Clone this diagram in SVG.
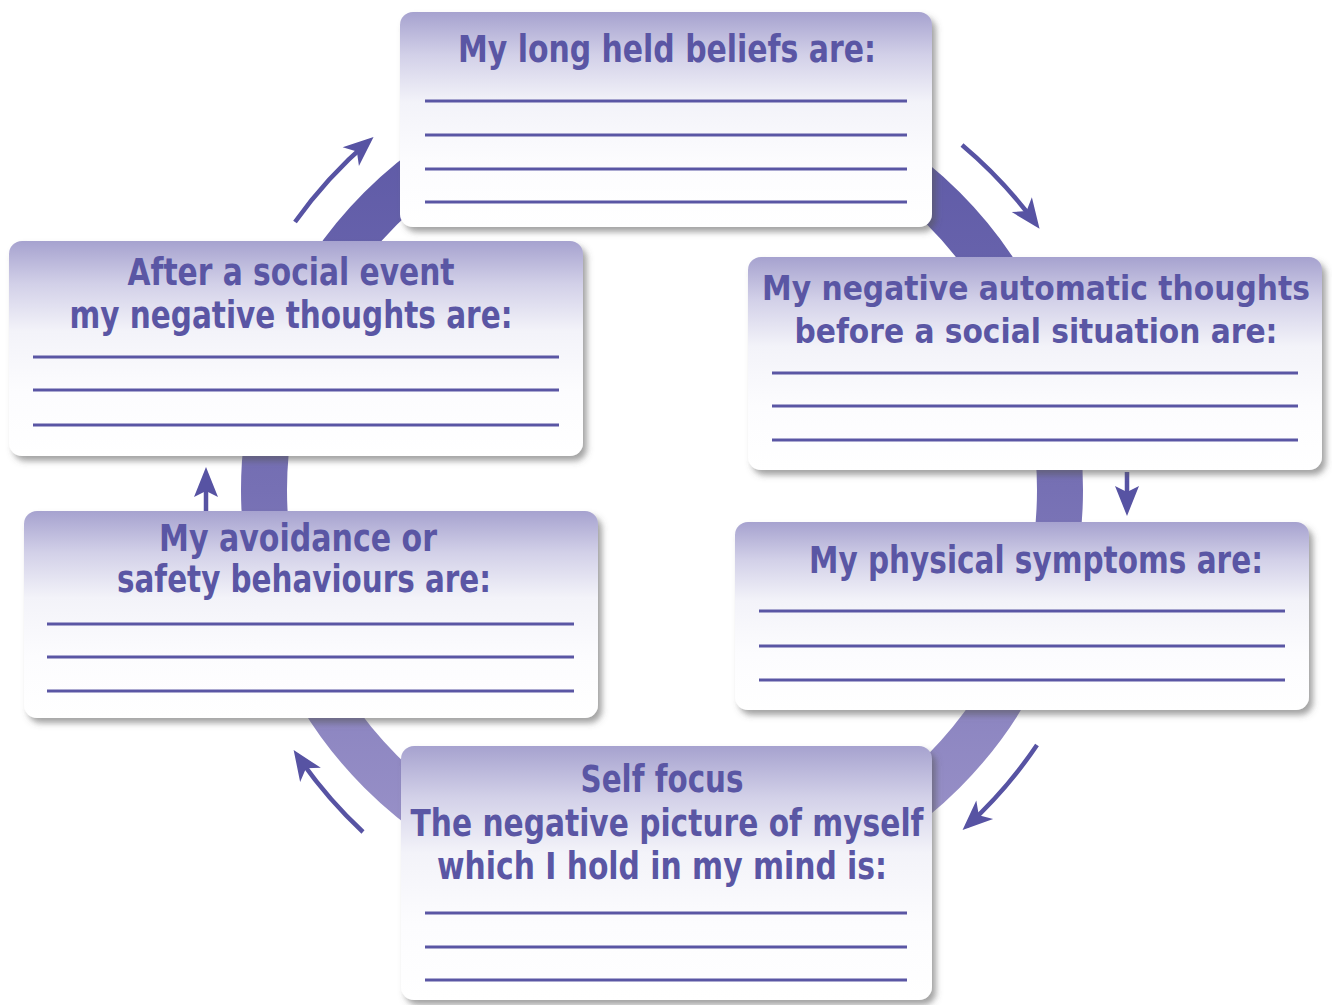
<svg xmlns="http://www.w3.org/2000/svg" width="1332" height="1005" viewBox="0 0 1332 1005">
<style>
.t{font-family:"DejaVu Sans Condensed","Liberation Sans Narrow","Liberation Sans",sans-serif;font-weight:bold;font-size:37px;fill:#5a56a4;text-anchor:middle}
.s{font-size:34px}
.ln{stroke:#5a56a4;stroke-width:3}
.box{fill:url(#bg);filter:url(#sh)}
.arr{fill:none;stroke:#5753a3;stroke-width:4.5;marker-end:url(#ah)}
</style>
<defs>
<linearGradient id="bg" x1="0" y1="0" x2="0" y2="1">
<stop offset="0" stop-color="#a6a2cf"/>
<stop offset="0.2" stop-color="#d2d0e8"/>
<stop offset="0.42" stop-color="#f3f3f9"/>
<stop offset="0.7" stop-color="#fcfcfe"/>
<stop offset="1" stop-color="#ffffff"/>
</linearGradient>
<linearGradient id="rg" gradientUnits="userSpaceOnUse" x1="0" y1="69" x2="0" y2="911">
<stop offset="0" stop-color="#5a56a4"/>
<stop offset="0.5" stop-color="#7670b4"/>
<stop offset="1" stop-color="#a098cc"/>
</linearGradient>
<filter id="sh" x="-5%" y="-5%" width="115%" height="120%">
<feDropShadow dx="4" dy="5" stdDeviation="3" flood-color="#555" flood-opacity="0.55"/>
</filter>
<marker id="ah" markerUnits="userSpaceOnUse" markerWidth="40" markerHeight="40" viewBox="-30 -15 40 30" refX="0" refY="0" orient="auto">
<path d="M6,0 L-24,-12.5 L-16,0 L-24,12.5 Z" fill="#5753a3"/>
</marker>
</defs>
<rect width="1332" height="1005" fill="#fff"/>
<g id="ring">
<circle cx="662" cy="490" r="398" fill="none" stroke="url(#rg)" stroke-width="46"/>
</g>
<g id="connectors">
<path class="arr" d="M295,222 A455,455 0 0 1 369,141"/>
<path class="arr" d="M962,145 A455,455 0 0 1 1036,224"/>
<path class="arr" d="M1037,745 A455,455 0 0 1 967,826"/>
<path class="arr" d="M363,832 A455,455 0 0 1 297,755"/>
<path d="M1127,472 V494" stroke="#5753a3" stroke-width="4.5"/>
<path d="M1127,516 L1115,486 L1127,492 L1139,486 Z" fill="#5753a3"/>
<path d="M206,512 V490" stroke="#5753a3" stroke-width="4.5"/>
<path d="M206,467 L194,497 L206,491 L218,497 Z" fill="#5753a3"/>
</g>
<g id="n1">
<rect class="box" x="400" y="12" width="532" height="215" rx="13"/>
<text class="t" x="667" y="62" textLength="418" lengthAdjust="spacingAndGlyphs">My long held beliefs are:</text>
<path class="ln" d="M425,101H907M425,135H907M425,169H907M425,202H907"/>
</g>
<g id="n2">
<rect class="box" x="748" y="257" width="574" height="213" rx="13"/>
<text class="t s" x="1036" y="300" textLength="548" lengthAdjust="spacingAndGlyphs">My negative automatic thoughts</text>
<text class="t s" x="1036" y="343" textLength="483" lengthAdjust="spacingAndGlyphs">before a social situation are:</text>
<path class="ln" d="M772,373H1298M772,406H1298M772,440H1298"/>
</g>
<g id="n3">
<rect class="box" x="735" y="522" width="574" height="188" rx="13"/>
<text class="t" x="1036" y="573" textLength="454" lengthAdjust="spacingAndGlyphs">My physical symptoms are:</text>
<path class="ln" d="M759,611H1285M759,646H1285M759,680H1285"/>
</g>
<g id="n4">
<rect class="box" x="401" y="746" width="531" height="254" rx="13"/>
<text class="t" x="662" y="792" textLength="163" lengthAdjust="spacingAndGlyphs">Self focus</text>
<text class="t" x="667" y="836" textLength="513" lengthAdjust="spacingAndGlyphs">The negative picture of myself</text>
<text class="t" x="662" y="879" textLength="450" lengthAdjust="spacingAndGlyphs">which I hold in my mind is:</text>
<path class="ln" d="M425,913H907M425,947H907M425,980H907"/>
</g>
<g id="n5">
<rect class="box" x="24" y="511" width="574" height="207" rx="13"/>
<text class="t" x="298" y="551" textLength="278" lengthAdjust="spacingAndGlyphs">My avoidance or</text>
<text class="t" x="304" y="592" textLength="374" lengthAdjust="spacingAndGlyphs">safety behaviours are:</text>
<path class="ln" d="M47,624H574M47,657H574M47,691H574"/>
</g>
<g id="n6">
<rect class="box" x="9" y="241" width="574" height="215" rx="13"/>
<text class="t" x="291" y="285" textLength="327" lengthAdjust="spacingAndGlyphs">After a social event</text>
<text class="t" x="291" y="328" textLength="443" lengthAdjust="spacingAndGlyphs">my negative thoughts are:</text>
<path class="ln" d="M33,357H559M33,390H559M33,425H559"/>
</g>
</svg>
